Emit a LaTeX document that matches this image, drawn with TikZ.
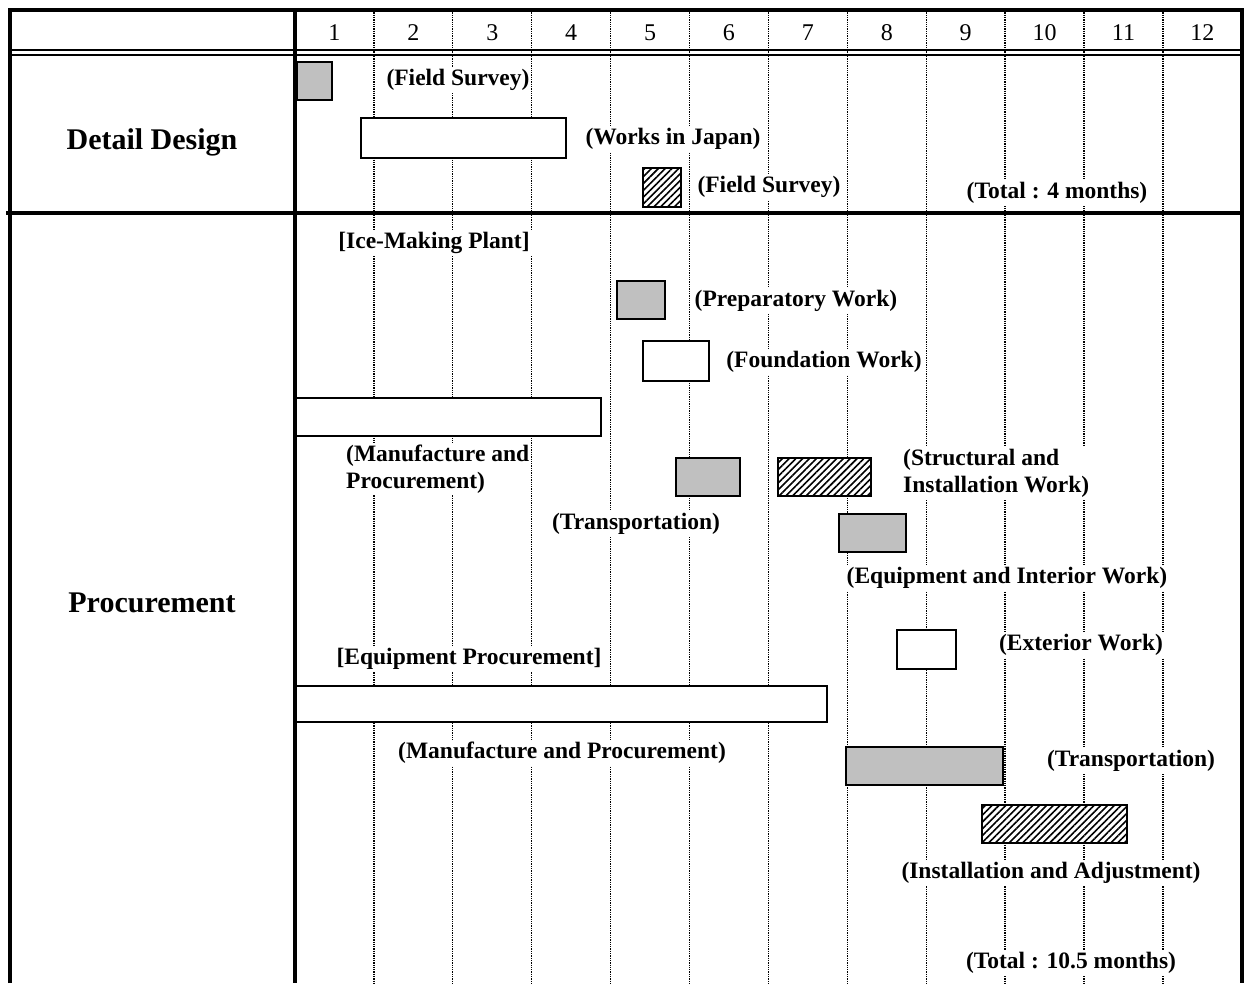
\documentclass[tikz,border=0pt]{standalone}
\usepackage{fontspec}
\setmainfont{Liberation Serif}
\usepackage{tikz}
\usetikzlibrary{patterns.meta}
\definecolor{bargray}{RGB}{192,192,192}

\begin{document}
\begin{tikzpicture}[x=1pt,y=-1pt]
	\tikzstyle{every node} = [font=\fontsize{23.5}{27}\selectfont\bfseries, fill=white, inner sep=2pt]
	\tikzstyle{frame} = [line width=3.2pt]
	\tikzstyle{month} = [densely dotted, line width=1.3pt]
	\tikzstyle{greybar} = [draw, line width=2pt, fill=bargray]
	\tikzstyle{whitebar} = [draw, line width=2pt, fill=white]
	\tikzstyle{hatchbar} = [draw, line width=2pt, preaction={fill=white}, pattern={Lines[angle=45,distance=4.8pt,line width=1.6pt]}]
\useasboundingbox (0,0) rectangle (1247,983);
% month grid
\foreach \m in {1,...,11}
	\path[draw, month] ({295+78.9*\m},10) -- ({295+78.9*\m},983);
\foreach \m in {1,...,12}
	\node[font=\fontsize{24}{26}\selectfont, fill=none] (m\m) at ({295+78.9*(\m-0.5)},33) {\m};
% frame
	\path[draw, frame] (10,983) -- (10,10) -- (1242,10) -- (1242,983);
	\path[draw, frame] (295,10) -- (295,983);
	\path[draw, line width=2pt] (10,50) -- (1242,50);
	\path[draw, line width=2pt] (10,54.5) -- (1242,54.5);
	\path[draw, frame] (6,213) -- (1242,213);
\node[font=\fontsize{30}{34}\selectfont\bfseries] (dd) at (152,142) {Detail Design};
\node[font=\fontsize{30}{34}\selectfont\bfseries] (pr) at (152,603) {Procurement};
% detail design
	\path[greybar] (297,62) rectangle (332,100);
	\path[whitebar] (361,118) rectangle (566,158);
	\path[hatchbar] (643,168) rectangle (681,207);
\node (fs1) at (458,80) {(Field Survey)};
\node (wij) at (673,139) {(Works in Japan)};
\node (fs2) at (769,187) {(Field Survey)};
\node (tot1) at (1057,193) {(Total : 4 months)};
% ice-making plant
\node (imp) at (434,243) {[Ice-Making Plant]};
	\path[greybar] (617,281) rectangle (665,319);
	\path[whitebar] (643,341) rectangle (709,381);
	\path[whitebar] (296,398) rectangle (601,436);
	\path[greybar] (676,458) rectangle (740,496);
	\path[hatchbar] (778,458) rectangle (871,496);
	\path[greybar] (839,514) rectangle (906,552);
	\path[whitebar] (897,630) rectangle (956,669);
\node (prep) at (796,301) {(Preparatory Work)};
\node (fnd) at (824,362) {(Foundation Work)};
\node[anchor=west, align=left] (mfp1) at (344,469) {(Manufacture and\\Procurement)};
\node (tr1) at (636,524) {(Transportation)};
\node[anchor=west, align=left] (siw) at (901,473.5) {(Structural and\\Installation Work)};
\node (eiw) at (1007,578) {(Equipment and Interior Work)};
\node (ext) at (1081,645) {(Exterior Work)};
% equipment procurement
\node (eqp) at (469,659) {[Equipment Procurement]};
	\path[whitebar] (296,686) rectangle (827,722);
	\path[greybar] (846,747) rectangle (1003,785);
	\path[hatchbar] (982,805) rectangle (1127,843);
\node (mfp2) at (562,753) {(Manufacture and Procurement)};
\node (tr2) at (1131,761) {(Transportation)};
\node (ina) at (1051,873) {(Installation and Adjustment)};
\node (tot2) at (1071,963) {(Total : 10.5 months)};
	\end{tikzpicture}
\end{document}
